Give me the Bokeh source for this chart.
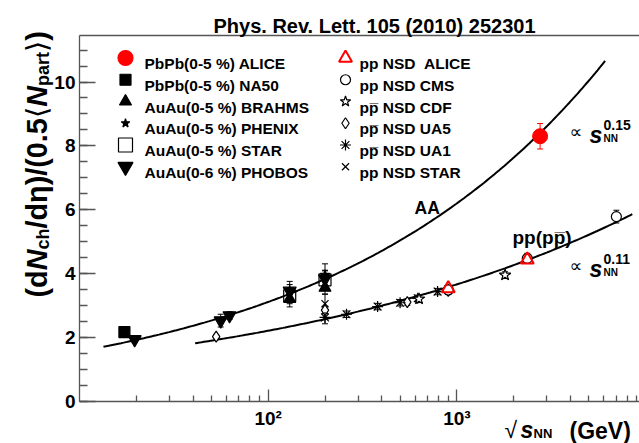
import numpy as np
from bokeh.plotting import figure
from bokeh.models import (Range1d, FixedTicker, Label, ColumnDataSource,
                          Whisker, TeeHead, LogAxis)
from bokeh.embed import file_html
from bokeh.resources import INLINE

# ---------------- data: charged multiplicity per participant pair ----------------
# heavy-ion collisions, x = sqrt(s_NN) in GeV
alice_aa_x = [2760]
alice_aa_y = [8.3]
alice_aa_err = [0.4]

na50_x = [17.3]
na50_y = [2.16]
na50_err = [0.08]

brahms_x = [130, 200]
brahms_y = [3.2, 3.55]
brahms_err = [0.25, 0.2]

phenix_x = [130, 200]
phenix_y = [3.45, 3.95]
phenix_err = [0.3, 0.35]

star_aa_x = [130, 200]
star_aa_y = [3.3, 3.8]
star_aa_err = [0.25, 0.3]

phobos_x = [19.6, 56, 62.4, 130, 200]
phobos_y = [1.93, 2.52, 2.68, 3.45, 3.83]
phobos_err = [0.1, 0.2, 0.12, 0.2, 0.25]

# pp / p-pbar non-single-diffractive
alice_pp_x = [900, 2360]
alice_pp_y = [3.53, 4.43]
alice_pp_err = [0.1, 0.12]

cms_x = [900, 2360, 7000]
cms_y = [3.48, 4.47, 5.78]
cms_err = [0.13, 0.16, 0.2]

cdf_x = [630, 1800]
cdf_y = [3.2, 3.95]
cdf_err = [0.1, 0.1]

ua5_x = [53, 200, 546, 900]
ua5_y = [2.02, 2.85, 3.1, 3.45]
ua5_err = [0.05, 0.1, 0.1, 0.1]

ua1_x = [200, 260, 380, 500, 620, 790, 900]
ua1_y = [2.62, 2.72, 2.96, 3.08, 3.22, 3.43, 3.5]
ua1_err = [0.2, 0.1, 0.1, 0.1, 0.1, 0.1, 0.1]

star_pp_x = [200]
star_pp_y = [3.05]
star_pp_err = [0.3]

# power-law fits  dN/deta / (0.5 Npart) = c * s_NN^k
aa_fit_c, aa_fit_k, aa_fit_span = 0.78, 0.15, (13.4, 6100)
pp_fit_c, pp_fit_k, pp_fit_span = 0.80, 0.11, (41, 8500)

x_major = [100, 1000]
x_major_text = {100: "10\u00b2", 1000: "10\u00b3"}
y_major = [0, 2, 4, 6, 8, 10]

# ---------------- geometry (pixels) ----------------
W, H = 639, 443
AX_LEFT, AX_TOP, AX_BOTTOM = 79.0, 35.0, 400.5   # where the axes sit
DECADE = 188.7                                   # pixels per decade along x
PPU = 31.9                                       # pixels per unit along y

RED = "#ff0000"
AX = "#555555"
FONT = "Liberation Sans"


def px2x(cx):
    return 10 ** (1 + (cx - AX_LEFT) / DECADE)


def px2y(cy):
    return (AX_BOTTOM - cy) / PPU


X_LO, X_HI = 10.0, px2x(W)
Y_LO, Y_HI = 0.0, px2y(AX_TOP)

# the plotting area spans the whole canvas; axes are pinned with fixed_location
p = figure(width=W, height=H, x_axis_type="log", output_backend="svg",
           toolbar_location=None,
           x_range=Range1d(px2x(0), px2x(W)), y_range=Range1d(px2y(H), px2y(0)),
           min_border_left=0, min_border_right=0, min_border_top=0,
           min_border_bottom=0)
p.outline_line_color = None
p.xgrid.grid_line_color = None
p.ygrid.grid_line_color = None
p.background_fill_color = "white"
p.border_fill_color = "white"

xa = p.xaxis[0]
ya = p.yaxis[0]
xa.fixed_location = 0.0
xa.bounds = (X_LO, X_HI)
ya.fixed_location = X_LO
ya.bounds = (Y_LO, Y_HI)

xa.ticker = FixedTicker(
    ticks=x_major,
    minor_ticks=[m * 10 ** e for e in (1, 2, 3) for m in range(2, 10)])
xa.major_label_overrides = x_major_text
ya.ticker = FixedTicker(ticks=y_major,
                        minor_ticks=list(np.arange(0, 11.5, 0.5)))
for ax in (xa, ya):
    ax.axis_line_color = AX
    ax.axis_line_width = 1.3
    ax.major_tick_line_color = AX
    ax.minor_tick_line_color = AX
    ax.major_tick_line_width = 1.3
    ax.minor_tick_line_width = 1.3
    ax.major_tick_out = 0
    ax.minor_tick_out = 0
    ax.major_label_text_font = FONT
    ax.major_label_text_font_style = "bold"
    ax.major_label_text_font_size = "19px"
    ax.major_label_text_color = "black"
xa.major_tick_in = 12
xa.minor_tick_in = 6
xa.major_label_standoff = 7
ya.major_tick_in = 16
ya.minor_tick_in = 8
ya.major_label_standoff = 4

# top edge of the frame
top = LogAxis(fixed_location=Y_HI, bounds=(X_LO, X_HI), ticker=FixedTicker(ticks=[]),
              axis_line_color=AX, axis_line_width=1.3,
              major_tick_line_color=None, minor_tick_line_color=None,
              major_label_text_font_size="0px")
p.add_layout(top, "above")


def put(text, cx, cy, size, style="bold", font=FONT, angle=0.0,
        align="left", baseline="alphabetic", color="black"):
    p.add_layout(Label(x=px2x(cx), y=px2y(cy), text=text, text_font=font,
                       text_font_size=f"{size}px", text_font_style=style,
                       angle=angle, text_align=align, text_baseline=baseline,
                       text_color=color))


# ---------------- fit curves ----------------
for c, k, (lo, hi) in ((aa_fit_c, aa_fit_k, aa_fit_span),
                       (pp_fit_c, pp_fit_k, pp_fit_span)):
    xs = np.geomspace(lo, hi, 200)
    p.line(xs, c * (xs ** 2) ** k, line_color="black", line_width=2)


# ---------------- data points ----------------
def series(x, y, err, marker, size, fill, line, lw=1.2):
    src = ColumnDataSource(dict(x=x, y=y, lo=[a - b for a, b in zip(y, err)],
                                hi=[a + b for a, b in zip(y, err)]))
    p.add_layout(Whisker(source=src, base="x", lower="lo", upper="hi",
                         dimension="height", line_color=line, line_width=1,
                         upper_head=TeeHead(size=6, line_color=line, line_width=1),
                         lower_head=TeeHead(size=6, line_color=line, line_width=1)))
    p.scatter("x", "y", source=src, marker=marker, size=size,
              fill_color=fill, line_color=line, line_width=lw)


series(ua5_x, ua5_y, ua5_err, "diamond", 11, "white", "black")
series(star_pp_x, star_pp_y, star_pp_err, "x", 10, None, "black")
series(ua1_x, ua1_y, ua1_err, "asterisk", 11, None, "black")
series(cdf_x, cdf_y, cdf_err, "star", 12, "white", "black")
series(cms_x, cms_y, cms_err, "circle", 10, "white", "black")
series(alice_pp_x, alice_pp_y, alice_pp_err, "triangle", 13, None, RED, 2)
series(na50_x, na50_y, na50_err, "square", 11, "black", "black")
series(star_aa_x, star_aa_y, star_aa_err, "square", 12, None, "black")
series(brahms_x, brahms_y, brahms_err, "triangle", 12, "black", "black")
series(phobos_x, phobos_y, phobos_err, "inverted_triangle", 13, "black", "black")
series(phenix_x, phenix_y, phenix_err, "star", 10, "black", "black")
series(alice_aa_x, alice_aa_y, alice_aa_err, "circle", 15, RED, RED, 1)

# ---------------- legend (two columns) ----------------
legend_aa = [("PbPb(0-5 %) ALICE", "circle", 15, RED, RED),
             ("PbPb(0-5 %) NA50", "square", 11, "black", "black"),
             ("AuAu(0-5 %) BRAHMS", "triangle", 12, "black", "black"),
             ("AuAu(0-5 %) PHENIX", "star", 9, "black", "black"),
             ("AuAu(0-5 %) STAR", "square", 14, None, "black"),
             ("AuAu(0-6 %) PHOBOS", "inverted_triangle", 15, "black", "black")]
legend_pp = [("pp NSD\u00a0\u00a0ALICE", "triangle", 13, None, RED),
             ("pp NSD CMS", "circle", 10, None, "black"),
             ("pp\u0305 NSD CDF", "star", 11, None, "black"),
             ("pp\u0305 NSD UA5", "diamond", 11, None, "black"),
             ("pp\u0305 NSD UA1", "asterisk", 11, None, "black"),
             ("pp NSD STAR", "x", 10, None, "black")]
ROW0, ROW_STEP = 57.5, 21.75
for col_marker, col_text, entries in ((125, 144, legend_aa), (345, 359, legend_pp)):
    for i, (text, marker, size, fill, line) in enumerate(entries):
        cy = ROW0 + i * ROW_STEP
        p.scatter([px2x(col_marker)], [px2y(cy)], marker=marker, size=size,
                  fill_color=fill, line_color=line,
                  line_width=2 if line == RED and fill is None else 1.2)
        put(text, col_text, cy + 5.5, 15.5)

# ---------------- annotations ----------------
put("AA", 414, 207, 17.5)
put("pp(pp\u0305)", 512, 237, 19)
for cy_s, k in ((134, "0.15"), (268, "0.11")):
    put("\u221d", 569, cy_s - 3, 18, style="normal", font="DejaVu Sans")
    put("s", 589, cy_s, 23, style="bold italic")
    put(k, 603, cy_s - 10, 14)
    put("NN", 603, cy_s + 4, 10)

put("Phys. Rev. Lett. 105 (2010) 252301", 213, 25, 20)

# x axis title: sqrt(s_NN) (GeV)
put("\u221a", 504, 429, 23, style="normal", font=FONT)
put("s", 520, 429, 23, style="bold italic")
put("NN", 533, 433, 13)
put("(GeV)", 569, 430, 23)

# y axis title, rotated, built from pieces running upwards
ADV = {"(": 333, ")": 333, "/": 278, ".": 278, "0": 556, "5": 556, "d": 611,
       "N": 722, "c": 556, "h": 611, "p": 611, "a": 556, "r": 389, "t": 333,
       "\u03b7": 611, "\u27e8": 390, "\u27e9": 390}
YF, YSUB = 28.8, 18
pieces = [("(d", YF, "bold", FONT, 0),
          ("N", YF, "bold italic", FONT, 0),
          ("ch", YSUB, "bold", FONT, 6),
          ("/d\u03b7)/(0.5", YF, "bold", FONT, 0),
          ("\u27e8", YF, "normal", "DejaVu Sans", 0),
          ("N", YF, "bold italic", FONT, 0),
          ("part", YSUB, "bold", FONT, 6),
          ("\u27e9", YF, "normal", "DejaVu Sans", 0),
          (")", YF, "bold", FONT, 0)]
cy = 297.0
for text, size, style, font, shift in pieces:
    put(text, 36 + shift, cy, size, style=style, font=font, angle=np.pi / 2)
    cy -= sum(ADV.get(ch, 556) for ch in text) * size / 1000

open("out.html", "w").write(file_html(p, INLINE))
